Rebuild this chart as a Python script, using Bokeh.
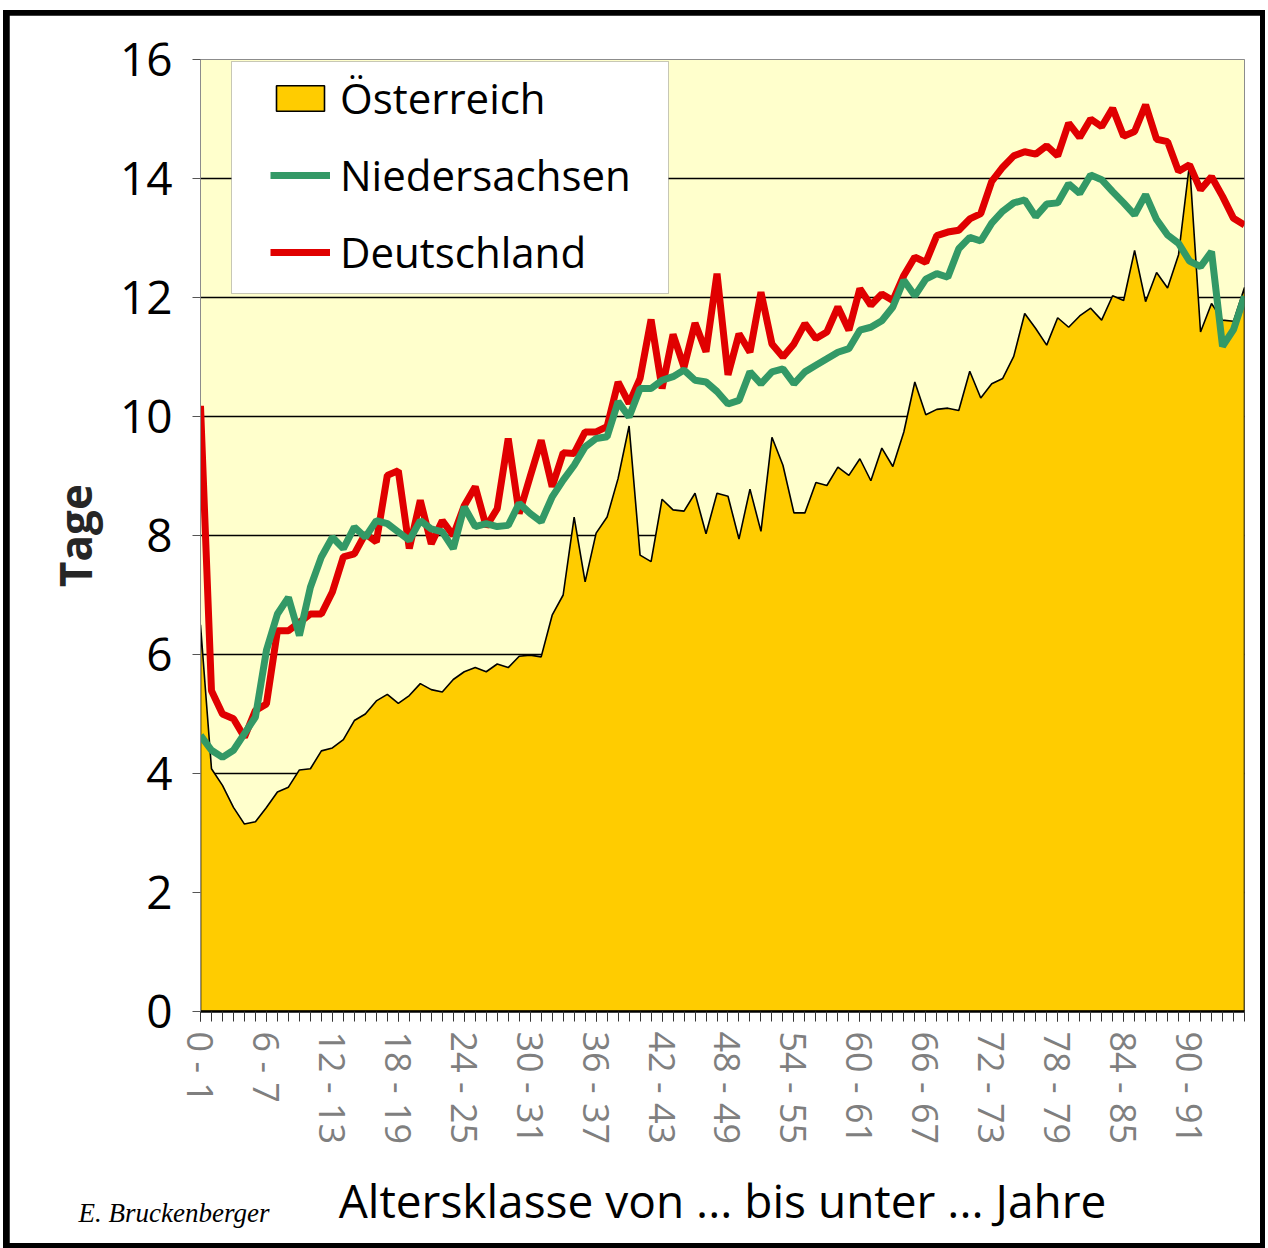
from bokeh.plotting import figure
from bokeh.layouts import column
from bokeh.models import Range1d, FixedTicker, Legend, LegendItem, BoxAnnotation, Label
from bokeh.embed import file_html
from bokeh.resources import INLINE

# ---------------- data ----------------
age_start = list(range(96))
age_labels = [f"{a} - {a + 1}" for a in age_start]
label_step = 6
y_ticks = [0, 2, 4, 6, 8, 10, 12, 14, 16]

series_names = ["Österreich", "Niedersachsen", "Deutschland"]

oesterreich = [
    6.50, 4.08, 3.80, 3.43, 3.15, 3.19, 3.43, 3.69, 3.77, 4.06,
    4.08, 4.38, 4.43, 4.57, 4.89, 5.00, 5.22, 5.33, 5.18, 5.31,
    5.51, 5.41, 5.37, 5.58, 5.71, 5.78, 5.71, 5.84, 5.78, 5.97,
    5.99, 5.96, 6.66, 7.00, 8.31, 7.22, 8.04, 8.31, 8.96, 9.84,
    7.67, 7.56, 8.61, 8.43, 8.41, 8.71, 8.03, 8.71, 8.66, 7.94,
    8.78, 8.07, 9.65, 9.18, 8.38, 8.38, 8.89, 8.84, 9.15, 9.01,
    9.29, 8.92, 9.47, 9.16, 9.74, 10.58, 10.03, 10.12, 10.14, 10.10,
    10.76, 10.31, 10.55, 10.64, 11.01, 11.73, 11.48, 11.20, 11.66, 11.50,
    11.69, 11.82, 11.62, 12.03, 11.95, 12.79, 11.93, 12.42, 12.16, 12.72,
    14.25, 11.42, 11.90, 11.62, 11.60, 12.17,
]

niedersachsen = [
    4.64, 4.39, 4.27, 4.39, 4.67, 4.95, 6.07, 6.68, 6.96, 6.32,
    7.13, 7.64, 7.97, 7.78, 8.14, 7.97, 8.25, 8.20, 8.06, 7.92,
    8.25, 8.11, 8.06, 7.78, 8.48, 8.15, 8.20, 8.15, 8.17, 8.54,
    8.37, 8.23, 8.65, 8.93, 9.18, 9.49, 9.63, 9.66, 10.25, 9.99,
    10.47, 10.47, 10.61, 10.67, 10.78, 10.61, 10.58, 10.42, 10.21, 10.27,
    10.75, 10.55, 10.75, 10.80, 10.55, 10.75, 10.86, 10.97, 11.08, 11.14,
    11.45, 11.50, 11.61, 11.84, 12.29, 12.03, 12.31, 12.40, 12.34, 12.82,
    13.01, 12.95, 13.25, 13.45, 13.59, 13.64, 13.36, 13.57, 13.59, 13.91,
    13.75, 14.06, 13.98, 13.78, 13.59, 13.39, 13.73, 13.31, 13.05, 12.91,
    12.61, 12.52, 12.77, 11.18, 11.46, 12.02,
]

deutschland = [
    10.18, 5.39, 5.00, 4.92, 4.61, 5.06, 5.17, 6.40, 6.40, 6.54,
    6.68, 6.68, 7.05, 7.64, 7.69, 8.03, 7.89, 9.01, 9.09, 7.78,
    8.59, 7.86, 8.25, 8.00, 8.50, 8.82, 8.15, 8.45, 9.63, 8.37,
    8.99, 9.60, 8.82, 9.39, 9.38, 9.74, 9.74, 9.83, 10.58, 10.22,
    10.64, 11.63, 10.47, 11.38, 10.83, 11.57, 11.09, 12.40, 10.70, 11.39,
    11.08, 12.09, 11.22, 11.00, 11.22, 11.56, 11.31, 11.42, 11.84, 11.45,
    12.15, 11.87, 12.06, 11.95, 12.37, 12.68, 12.59, 13.04, 13.10, 13.13,
    13.32, 13.41, 13.95, 14.19, 14.38, 14.45, 14.41, 14.55, 14.38, 14.93,
    14.69, 15.00, 14.87, 15.18, 14.71, 14.79, 15.24, 14.66, 14.62, 14.12,
    14.23, 13.81, 14.03, 13.70, 13.33, 13.22,
]

# ---------------- figure ----------------
W, H = 1251, 1228
FONT = "Open Sans"

p = figure(
    width=W, height=H, output_backend="svg", toolbar_location=None,
    x_range=Range1d(age_start[0], age_start[-1]), y_range=Range1d(y_ticks[0], y_ticks[-1]),
    min_border_left=191, min_border_right=16, min_border_top=44, min_border_bottom=232,
    background_fill_color="#FFFFCC", border_fill_color="white",
)
p.outline_line_color = "#8c8c8c"
p.outline_line_width = 1

# area (Österreich)
area_x = age_start + [age_start[-1], age_start[0]]
area_y = oesterreich + [y_ticks[0], y_ticks[0]]
r_at = p.patch(area_x, area_y, fill_color="#FFCC00", line_color="black", line_width=1.6)

# lines
r_de = p.line(age_start, deutschland, line_color="#E00000", line_width=7, line_join="bevel")
r_ni = p.line(age_start, niedersachsen, line_color="#339966", line_width=7, line_join="bevel")

# axes
xa = p.xaxis[0]
xa.ticker = FixedTicker(ticks=age_start[::label_step], minor_ticks=age_start)
xa.major_label_overrides = {a: age_labels[a] for a in age_start[::label_step]}
xa.major_label_orientation = "vertical"
xa.major_label_text_font = FONT
xa.major_label_text_font_size = "36px"
xa.major_label_text_color = "#7f7f7f"
xa.major_label_standoff = 10
xa.major_tick_in = 0
xa.major_tick_out = 10
xa.minor_tick_in = 0
xa.minor_tick_out = 10
xa.major_tick_line_color = "#333333"
xa.minor_tick_line_color = "#333333"
xa.axis_line_color = "black"
xa.axis_line_width = 2.5
xa.axis_label = "Altersklasse von ... bis unter ... Jahre"
xa.axis_label_text_font = FONT
xa.axis_label_text_font_size = "46px"
xa.axis_label_text_font_style = "normal"
xa.axis_label_text_color = "black"
xa.axis_label_standoff = 22

ya = p.yaxis[0]
ya.ticker = FixedTicker(ticks=y_ticks)
ya.minor_tick_line_color = None
ya.major_tick_in = 0
ya.major_tick_out = 8
ya.major_tick_line_color = "#555555"
ya.axis_line_color = "#8c8c8c"
ya.major_label_text_font = FONT
ya.major_label_text_font_size = "46px"
ya.major_label_text_color = "black"
ya.major_label_standoff = 20
ya.axis_label = "Tage"
ya.axis_label_text_font = FONT
ya.axis_label_text_font_size = "44px"
ya.axis_label_text_font_style = "bold"
ya.axis_label_text_color = "#262626"
ya.axis_label_standoff = 12

p.xgrid.visible = False
p.ygrid.ticker = FixedTicker(ticks=y_ticks[1:-1])
p.ygrid.grid_line_color = "black"
p.ygrid.grid_line_width = 1.6

# legend background box (frame-relative screen units)
legend_box = BoxAnnotation(
    left=31, right=468, top=950, bottom=718,
    left_units="screen", right_units="screen", top_units="screen", bottom_units="screen",
    fill_color="white", fill_alpha=1.0, line_color="#444444", line_width=1,
)
p.add_layout(legend_box)

legend = Legend(
    items=[
        LegendItem(label=series_names[0], renderers=[r_at]),
        LegendItem(label=series_names[1], renderers=[r_ni]),
        LegendItem(label=series_names[2], renderers=[r_de]),
    ],
    location=(70, 731), padding=0, spacing=20, margin=0,
    label_height=57, glyph_height=32, glyph_width=60, label_standoff=10,
    label_text_font=FONT, label_text_font_size="42px", label_text_color="black",
    background_fill_alpha=0, border_line_alpha=0,
)
p.add_layout(legend)

# author credit (placed in the top side panel so it is not clipped to the frame)
credit = Label(
    x=-122, y=-1153, x_units="screen", y_units="screen",
    text="E. Bruckenberger", text_font="Liberation Serif", text_font_style="italic",
    text_font_size="27px", text_color="black", text_baseline="alphabetic",
)
p.add_layout(credit, "above")

# outer black frame via a wrapper
layout = column(
    p,
    styles={
        "background-color": "black",
        "padding": "5px 5px 5px 6px",
        "margin-left": "3px",
        "margin-top": "10px",
    },
)

open("out.html", "w").write(file_html(layout, INLINE))
